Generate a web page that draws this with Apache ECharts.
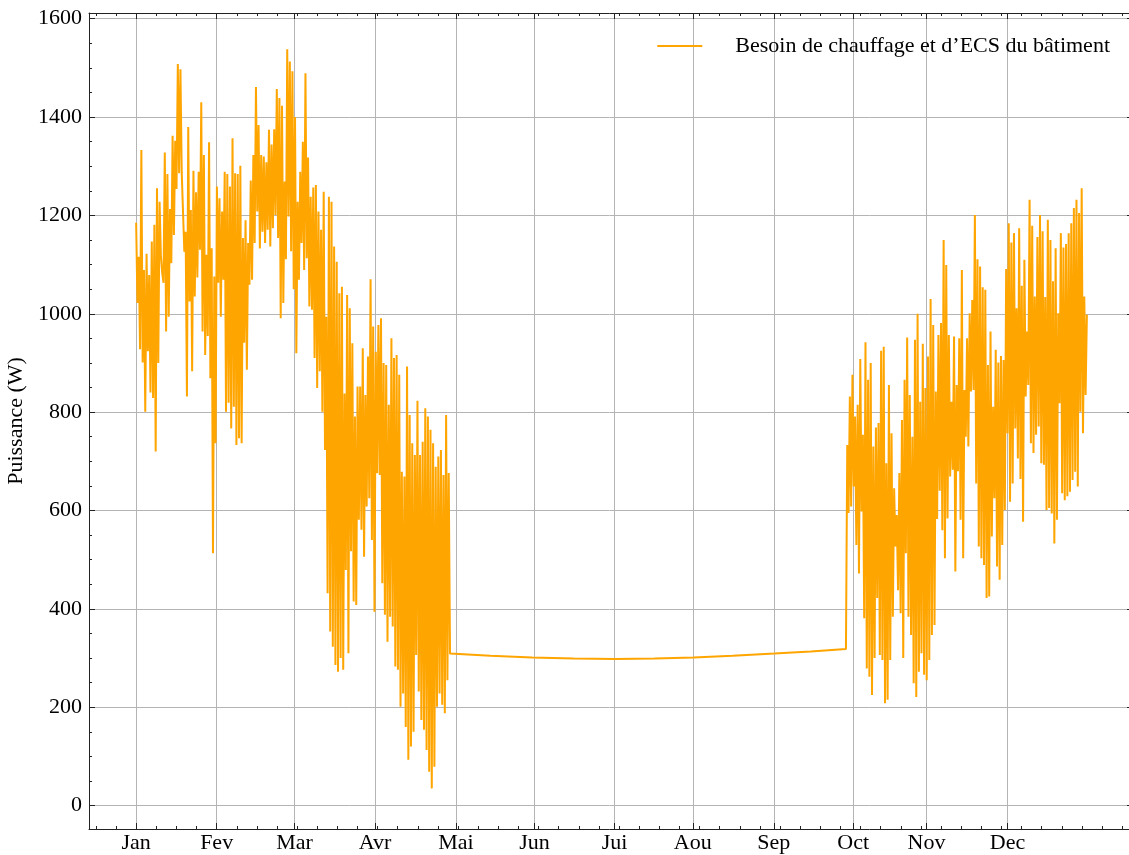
<!DOCTYPE html>
<html>
<head>
<meta charset="utf-8">
<script src="https://cdn.jsdelivr.net/npm/echarts@6/dist/echarts.min.js"></script>
<style>
  html, body { margin: 0; padding: 0; background: #fff; }
  #chart { width: 1129px; height: 855px; }
</style>
</head>
<body>
<div id="chart"></div>
<script>
// Month labels and the day position of each major tick
const mois = ['Jan', 'Fev', 'Mar', 'Avr', 'Mai', 'Jun', 'Jui', 'Aou', 'Sep', 'Oct', 'Nov', 'Dec'];
const tickJours = [0, 30.9, 60.8, 91.7, 122.8, 152.9, 183.7, 213.7, 244.8, 275.3, 303.4, 334.5];
const yTicks = [0, 200, 400, 600, 800, 1000, 1200, 1400, 1600];

// Heating season Jan-Apr: daily high / low pairs (W), half-day steps from day 0
const hiver = [
  1185, 1022, 1116, 928, 1333, 901, 1089, 801, 1122, 924, 1079, 840, 1147, 829, 1181, 720,
  1255, 900, 1228, 1118, 1083, 1063, 1328, 964, 1284, 994, 1213, 1103, 1362, 1160, 1352, 1254,
  1508, 1286, 1497, 1287, 1289, 1126, 1167, 832, 1380, 1025, 1211, 883, 1291, 1035, 1247, 1074,
  1289, 1130, 1430, 964, 1323, 916, 1120, 955, 1349, 869, 1133, 513, 1076, 737, 1259, 1063,
  1235, 994, 1208, 1069, 1289, 801, 1284, 819, 1259, 767, 1357, 811, 1286, 733, 1284, 747,
  1301, 737, 1154, 941, 1190, 886, 1144, 1059, 1271, 1069, 1323, 1144, 1461, 1208, 1384, 1133,
  1323, 1167, 1320, 1144, 1308, 1171, 1374, 1137, 1344, 1174, 1375, 1201, 1457, 1154, 1439, 991,
  1423, 1022, 1269, 1111, 1538, 1198, 1513, 1127, 1493, 1050, 1400, 920, 1228, 1069, 1289, 1144,
  1350, 1089, 1489, 1113, 1318, 1015, 1238, 1008, 1257, 910, 1262, 849, 1208, 883, 1171, 801,
  1248, 723, 994, 432, 1238, 354, 1228, 323, 1137, 286, 1106, 272, 1042, 300, 1055, 276,
  838, 479, 1038, 310, 1011, 517, 940, 415, 791, 408, 852, 581, 852, 561, 930, 506,
  835, 608, 913, 625, 1070, 540, 974, 394, 923, 676, 977, 672, 991, 452, 900, 388,
  896, 333, 815, 384, 950, 364, 910, 283, 916, 276, 876, 201, 679, 228, 669, 160,
  893, 93, 794, 120, 737, 150, 713, 306, 823, 232, 713, 174, 740, 154, 808, 113,
  791, 69, 764, 35, 737, 79, 689, 201, 710, 228, 723, 205, 672, 188, 794, 255,
  676
];

// Summer: hot water only (W) at the listed days
const eteJours = [120.5, 136, 152, 168, 184, 199, 214, 229, 245, 259, 272.5];
const eteValeurs = [309, 304.5, 301, 299, 298, 299, 301, 304.5, 309, 313.5, 318.5];

// Heating season Oct-Dec: daily high / low pairs (W), half-day steps from day 273
const debutAutomne = 273;
const automne = [
  733, 595, 832, 608, 876, 649, 791, 530, 815, 472, 908, 598, 754, 381, 942, 279,
  866, 262, 900, 225, 730, 300, 769, 422, 778, 306, 925, 296, 933, 208, 696, 215,
  855, 296, 757, 384, 645, 527, 591, 438, 676, 391, 784, 300, 866, 513, 952, 384,
  835, 347, 750, 249, 947, 221, 1000, 272, 821, 310, 939, 266, 849, 255, 913, 296,
  1030, 347, 977, 367, 842, 583, 957, 640, 981, 560, 1150, 503, 1099, 584, 957, 669,
  821, 683, 954, 476, 855, 680, 950, 581, 1089, 503, 845, 750, 950, 730, 1001, 842,
  1028, 845, 1201, 655, 1111, 527, 1096, 503, 1054, 489, 1049, 422, 896, 425, 964, 547,
  811, 625, 927, 486, 901, 459, 914, 530, 906, 601, 1091, 757, 1184, 618, 1145, 655,
  1164, 767, 1011, 706, 1174, 664, 1057, 577, 1110, 832, 964, 855, 1232, 737, 1179, 717,
  1035, 754, 1156, 771, 1201, 696, 1168, 693, 1034, 601, 1191, 605, 1150, 594, 1066, 533,
  1133, 581, 1001, 818, 1164, 635, 1135, 621, 1142, 629, 1164, 638, 1184, 662, 1215, 679,
  1232, 649, 1205, 801, 1255, 757, 1035, 835,
  998
];

const NOM_SERIE = 'Besoin de chauffage et d\u2019ECS du b\u00e2timent';

// Assemble [day, W] points for the single line
const points = [];
hiver.forEach((v, i) => points.push([i * 0.5, v]));
eteJours.forEach((d, i) => points.push([d, eteValeurs[i]]));
automne.forEach((v, i) => points.push([debutAutomne + i * 0.5, v]));

// Axis extents (days / W)
const X_MIN = -18.1, X_MAX = 382.7;
const Y_MIN = -47.6, Y_MAX = 1611.6;

// Minor ticks: x every quarter of the first month spacing, y every 50 W
const pasMineurX = tickJours[1] / 4;
const minorX = [];
for (let k = -2; k <= 49; k++) minorX.push(+(k * pasMineurX).toFixed(3));
const minorY = [];
for (let v = 0; v <= 1600; v += 50) minorY.push(v);

const FONT = '"Liberation Serif", "DejaVu Serif", serif';
const FONT_SIZE = 22;
const AXIS_COLOR = '#222';

function xAxe(position, ticks, len, withLine, withLabels, withSplit) {
  return {
    type: 'value', min: X_MIN, max: X_MAX, position: position,
    axisLine: { show: withLine, onZero: false, lineStyle: { color: AXIS_COLOR, width: 1 } },
    axisTick: { show: true, inside: true, length: len, customValues: ticks, lineStyle: { color: AXIS_COLOR, width: 1 } },
    axisLabel: withLabels ? {
      show: true, customValues: ticks, margin: 3,
      fontFamily: FONT, fontSize: FONT_SIZE, color: '#000',
      formatter: v => mois[tickJours.indexOf(v)] || ''
    } : { show: false },
    splitLine: { show: withSplit, lineStyle: { color: '#b4b4b4', width: 1 } },
    minorTick: { show: false }
  };
}

function yAxe(position, ticks, len, withLine, withLabels, withSplit) {
  const ax = {
    type: 'value', min: Y_MIN, max: Y_MAX, position: position,
    axisLine: { show: withLine, onZero: false, lineStyle: { color: AXIS_COLOR, width: 1 } },
    axisTick: { show: true, inside: true, length: len, customValues: ticks, lineStyle: { color: AXIS_COLOR, width: 1 } },
    axisLabel: withLabels ? {
      show: true, customValues: ticks, margin: 7,
      fontFamily: FONT, fontSize: FONT_SIZE, color: '#000',
      formatter: v => String(v)
    } : { show: false },
    splitLine: { show: withSplit, lineStyle: { color: '#b4b4b4', width: 1 } }
  };
  if (withLabels) {
    ax.name = 'Puissance (W)';
    ax.nameLocation = 'middle';
    ax.nameRotate = 90;
    ax.nameGap = 60;
    ax.nameTextStyle = { fontFamily: FONT, fontSize: FONT_SIZE, color: '#000' };
  }
  return ax;
}

const chart = echarts.init(document.getElementById('chart'), null, { renderer: 'canvas' });
chart.setOption({
  animation: false,
  backgroundColor: '#fff',
  grid: { left: 89, right: -4, top: 13, bottom: 26, containLabel: false, outerBoundsMode: 'none' },
  legend: {
    right: 14, top: 30,
    itemWidth: 45, itemHeight: 2,
    data: [{ name: NOM_SERIE, icon: 'rect' }],
    textStyle: { fontFamily: FONT, fontSize: FONT_SIZE, color: '#000', padding: [0, 0, 0, 28] }
  },
  xAxis: [
    xAxe('bottom', tickJours, 6, true, true, true),
    xAxe('bottom', minorX, 3, false, false, false),
    xAxe('top', tickJours, 6, true, false, false),
    xAxe('top', minorX, 3, false, false, false)
  ],
  yAxis: [
    yAxe('left', yTicks, 6, true, true, true),
    yAxe('left', minorY, 3, false, false, false),
    yAxe('right', yTicks, 6, true, false, false),
    yAxe('right', minorY, 3, false, false, false)
  ],
  series: [{
    name: NOM_SERIE,
    type: 'line',
    xAxisIndex: 0, yAxisIndex: 0,
    data: points,
    symbol: 'none',
    sampling: 'none',
    color: '#FFA500',
    lineStyle: { color: '#FFA500', width: 2 },
    z: 5
  }]
});
</script>
</body>
</html>
